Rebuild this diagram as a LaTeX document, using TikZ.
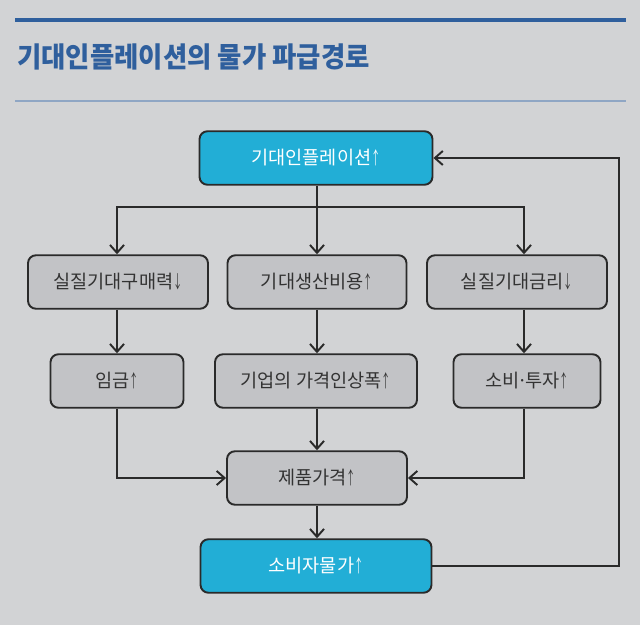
\documentclass[tikz,border=0pt]{standalone}
\usepackage{fontspec}
\setmainfont{Noto Sans CJK KR}
\usetikzlibrary{arrows.meta}
\definecolor{bgGray}{HTML}{D2D3D5}
\definecolor{boxGray}{HTML}{C2C3C6}
\definecolor{boxCyan}{HTML}{22AED6}
\definecolor{titleBlue}{HTML}{2F5F9D}
\definecolor{ruleBlue}{HTML}{8FA6C4}
\definecolor{lineDark}{HTML}{2A2A2A}
\newcommand{\upar}{\scalebox{0.5}[0.95]{↑}}
\newcommand{\dnar}{\scalebox{0.5}[0.95]{↓}}
\tikzset{
	stage/.style={draw=lineDark,line width=1.1pt,rounded corners=4.5pt,fill=boxGray,
		text=black!80,font=\fontsize{10.6}{13}\selectfont,minimum height=1.07cm,inner sep=0pt},
	keystage/.style={stage,fill=boxCyan,text=white},
	flow/.style={draw=lineDark,line width=1.1pt,-{Straight Barb[length=4.5pt,width=8pt]}},
	joint/.style={draw=lineDark,line width=1.1pt},
	loopback/.style={draw=lineDark,line width=0.7pt,-{Straight Barb[length=4.5pt,width=8pt,line width=1.1pt]}}
}
\begin{document}
\begin{tikzpicture}[x=0.02cm,y=-0.02cm]
\fill[bgGray](0,0) rectangle (640,625);
\useasboundingbox (0,0) rectangle (640,625);
%title
\draw[titleBlue,line width=2pt](15,20)--(626,20);
\node[anchor=base west,text=titleBlue,font=\bfseries\fontsize{16}{20}\selectfont,inner sep=0pt]
	(title) at (17,68) {\scalebox{0.94}[1]{기대인플레이션의 물가 파급경로}};
\draw[ruleBlue,line width=0.8pt](15,101)--(626,101);
%boxes
\node[keystage,minimum width=4.66cm] (infl) at (316,158) {기대인플레이션\upar};
\node[stage,minimum width=3.6cm] (buy) at (118,282) {실질기대구매력\dnar};
\node[stage,minimum width=3.58cm] (cost) at (317,282) {기대생산비용\upar};
\node[stage,minimum width=3.6cm] (rate) at (517,282) {실질기대금리\dnar};
\node[stage,minimum width=2.66cm] (wage) at (117,381) {임금\upar};
\node[stage,minimum width=4.04cm] (markup) at (316,381) {기업의 가격인상폭\upar};
\node[stage,minimum width=2.94cm] (spend) at (527,381) {소비\kern-0.12em·\kern-0.12em투자\upar};
\node[stage,minimum width=3.6cm] (price) at (317,478) {제품가격\upar};
\node[keystage,minimum width=4.62cm] (cpi) at (316,566) {소비자물가\upar};
%columns
\coordinate (colL) at (117,207);
\coordinate (colM) at (317,207);
\coordinate (colR) at (524,207);
\coordinate (edge) at (619,0);
%arrows
\draw[joint] (infl.south -| colM) -- (colM);
\draw[flow] (colM) -| (colL) -- (colL |- buy.north);
\draw[flow] (colM) -| (colR) -- (colR |- rate.north);
\draw[flow] (colM) -- (colM |- cost.north);
\draw[flow] (colL |- buy.south) -- (colL |- wage.north);
\draw[flow] (colM |- cost.south) -- (colM |- markup.north);
\draw[flow] (colR |- rate.south) -- (colR |- spend.north);
\draw[flow] (colL |- wage.south) |- (price.west);
\draw[flow] (colR |- spend.south) |- (price.east);
\draw[flow] (colM |- markup.south) -- (colM |- price.north);
\draw[flow] (colM |- price.south) -- (colM |- cpi.north);
%feedback
\draw[loopback] (cpi.east) -- (cpi.east -| edge) |- (infl.east);
\end{tikzpicture}
\end{document}
